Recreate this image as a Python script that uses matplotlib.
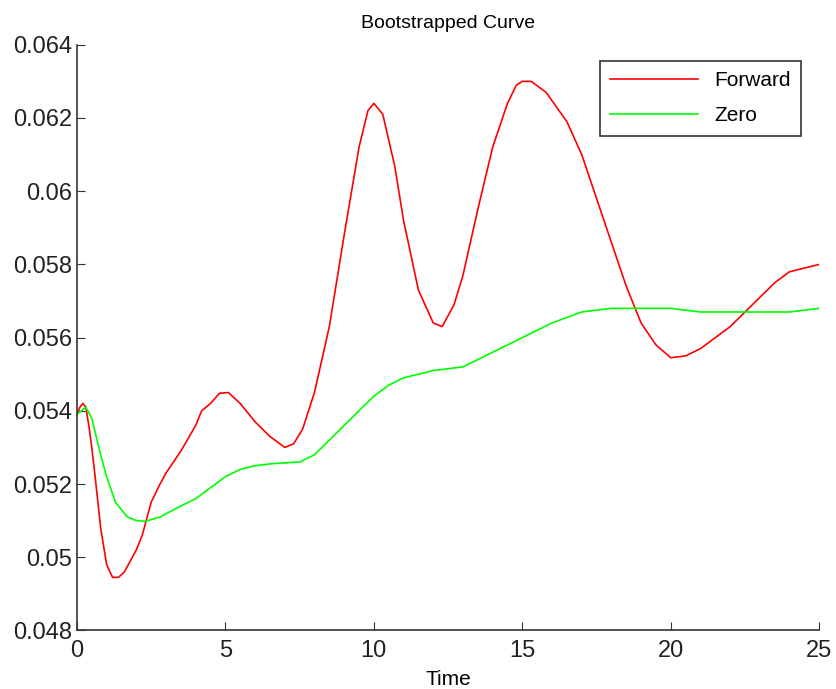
import matplotlib
matplotlib.use("Agg")
import matplotlib.pyplot as plt

plt.rcParams['font.family'] = ['Liberation Sans', 'DejaVu Sans']

# values
forward_t = [0, 0.1, 0.2, 0.3, 0.4, 0.5, 0.6, 0.8, 1.0, 1.2, 1.4, 1.6, 1.8, 2.0,
             2.2, 2.5, 2.8, 3.0, 3.5, 4.0, 4.2, 4.5, 4.8, 5.1, 5.5, 6.0, 6.5,
             7.0, 7.3, 7.6, 8.0, 8.5, 9.0, 9.5, 9.8, 10.0, 10.3, 10.7, 11.0,
             11.5, 12.0, 12.3, 12.7, 13.0, 13.5, 14.0, 14.5, 14.8, 15.0, 15.3,
             15.8, 16.5, 17.0, 17.5, 18.0, 18.5, 19.0, 19.5, 20.0, 20.5, 21.0,
             21.5, 22.0, 22.5, 23.0, 23.5, 24.0, 24.5, 25.0]
forward = [0.0539, 0.0541, 0.0542, 0.0541, 0.0536, 0.0530, 0.0523, 0.0508,
           0.0498, 0.04945, 0.04945, 0.0496, 0.0499, 0.0502, 0.0506, 0.0515,
           0.0520, 0.0523, 0.0529, 0.0536, 0.0540, 0.0542, 0.05448, 0.0545,
           0.0542, 0.0537, 0.0533, 0.0530, 0.0531, 0.0535, 0.0545, 0.0563,
           0.0588, 0.0612, 0.0622, 0.0624, 0.0621, 0.0607, 0.0592, 0.0573,
           0.0564, 0.0563, 0.0569, 0.0577, 0.0595, 0.0612, 0.0624, 0.0629,
           0.0630, 0.0630, 0.0627, 0.0619, 0.0610, 0.0598, 0.0586, 0.0574,
           0.0564, 0.0558, 0.05545, 0.0555, 0.0557, 0.0560, 0.0563, 0.0567,
           0.0571, 0.0575, 0.0578, 0.0579, 0.0580]

zero_t = [0, 0.3, 0.5, 0.8, 1.0, 1.3, 1.7, 2.0, 2.3, 2.8, 3.5, 4.0, 4.5, 5.0,
          5.5, 6.0, 6.5, 7.0, 7.5, 8.0, 8.5, 9.0, 9.5, 10.0, 10.5, 11.0, 11.5,
          12.0, 13.0, 13.5, 14.0, 15.0, 16.0, 17.0, 18.0, 19.0, 20.0, 21.0,
          22.0, 23.0, 24.0, 25.0]
zero = [0.0539, 0.0541, 0.0538, 0.0528, 0.0522, 0.0515, 0.0511, 0.0510,
        0.05098, 0.0511, 0.0514, 0.0516, 0.0519, 0.0522, 0.0524, 0.0525,
        0.05255, 0.05258, 0.0526, 0.0528, 0.0532, 0.0536, 0.0540, 0.0544,
        0.0547, 0.0549, 0.0550, 0.0551, 0.0552, 0.0554, 0.0556, 0.0560,
        0.0564, 0.0567, 0.0568, 0.0568, 0.0568, 0.0567, 0.0567, 0.0567,
        0.0567, 0.0568]

x_ticks = [0, 5, 10, 15, 20, 25]
y_ticks = [0.048, 0.05, 0.052, 0.054, 0.056, 0.058, 0.06, 0.062, 0.064]
y_labels = ["0.048", "0.05", "0.052", "0.054", "0.056", "0.058", "0.06", "0.062", "0.064"]

fig = plt.figure(figsize=(8.36, 6.89), dpi=100)
ax = fig.add_axes([0.092, 0.085, 0.888, 0.85])

ax.plot(forward_t, forward, color="#ff0000", lw=1.2, label="Forward")
ax.plot(zero_t, zero, color="#00ff00", lw=1.2, label="Zero")

ax.set_xlim(0, 25)
ax.set_ylim(0.048, 0.064)
ax.set_xticks(x_ticks)
ax.set_yticks(y_ticks)
ax.set_yticklabels(y_labels)
ax.tick_params(direction="in", length=6, labelsize=17, color="#333333", labelcolor="#222222")
ax.tick_params(axis="x", pad=7)
ax.spines["top"].set_visible(False)
ax.spines["right"].set_visible(False)
for s in ["left", "bottom"]:
    ax.spines[s].set_color("#333333")
    ax.spines[s].set_linewidth(1.2)

ax.set_title("Bootstrapped Curve", fontsize=14, pad=12)
ax.set_xlabel("Time", fontsize=15, labelpad=6)

leg = ax.legend(loc="upper right", fontsize=15, fancybox=False, edgecolor="black",
                handlelength=4.2, borderpad=0.5, labelspacing=0.75,
                bbox_to_anchor=(0.99, 0.99))
leg.get_frame().set_linewidth(1.2)

fig.savefig("out.png", dpi=100)
